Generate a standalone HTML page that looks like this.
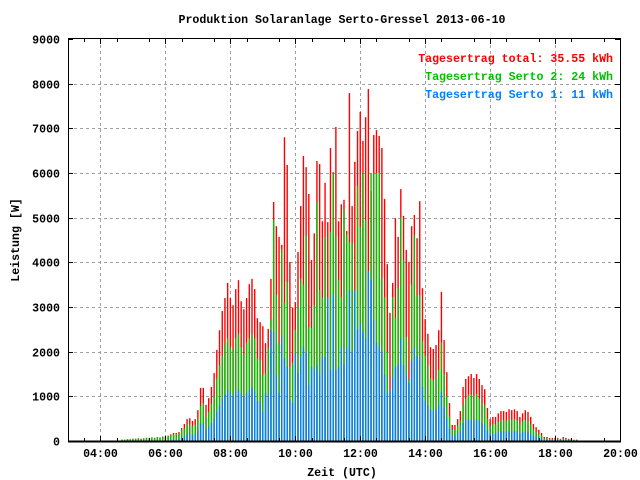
<!DOCTYPE html>
<html><head><meta charset="utf-8"><style>
html,body{margin:0;padding:0;background:#fff;}
svg{display:block;font-family:"Liberation Mono",monospace;font-weight:bold;}
</style></head><body>
<svg id="chart" width="640" height="480" viewBox="0 0 640 480" xmlns="http://www.w3.org/2000/svg">
<rect x="0" y="0" width="640" height="480" fill="#fff"/>
<text x="342" y="23" text-anchor="middle" font-size="11.6" fill="#000">Produktion Solaranlage Serto-Gressel 2013-06-10</text>
<g id="grid"></g>
<g id="bars"></g>
<g id="axes"></g>
<text x="613" y="62" text-anchor="end" font-size="11.6" fill="#ff0000">Tagesertrag total: 35.55 kWh</text>
<text x="613" y="80" text-anchor="end" font-size="11.6" fill="#00c000">Tagesertrag Serto 2: 24 kWh</text>
<text x="613" y="98" text-anchor="end" font-size="11.6" fill="#0080ff">Tagesertrag Serto 1: 11 kWh</text>
<text x="342" y="476" text-anchor="middle" font-size="11.6" fill="#000">Zeit (UTC)</text>
<text x="0" y="0" transform="translate(19,240) rotate(-90)" text-anchor="middle" font-size="11.6" fill="#000">Leistung [W]</text>
</svg>
<script>
const startTime = 4 + 40/60;
const stepMinutes = 5;
const xTickLabels = ["04:00","06:00","08:00","10:00","12:00","14:00","16:00","18:00","20:00"];
const xTickHours = [4,6,8,10,12,14,16,18,20];
const yTickValues = [0,1000,2000,3000,4000,5000,6000,7000,8000,9000];
const totalW = [30,30,40,40,
50,50,60,50,60,70,70,80,70,90,80,100,
100,120,150,180,180,200,290,380,490,510,450,490,
690,1190,1190,810,960,1210,1520,2040,2480,2910,3200,3540,
3200,3040,3400,3600,3130,2950,3200,3510,3630,3400,2750,2660,
2570,2190,2510,3630,5350,4810,4570,4390,6800,6180,4010,2980,
3110,4230,5260,6380,6130,5530,4050,4650,6270,6200,4920,5780,4900,6560,6020,7030,4920,5300,5400,4700,7790,
5260,6250,6940,7370,6720,7250,7880,5600,6850,6960,6830,6560,5420,3960,2870,3540,4990,4570,5640,5040,4280,4010,4810,5060,4540,
5370,3420,2730,2400,2100,2060,2150,2480,3340,2260,1540,850,360,360,490,670,1210,1390,1450,1500,1410,1500,1390,1250,1160,740,490,540,540,620,670,670,650,710,690,710,670,540,620,690,650,540,380,310,250,180,90,90,70,70,70,70,50,90,70,50,50,30,30];
const serto2W = [30,30,40,40,
50,50,60,50,60,70,70,80,70,90,80,100,
90,110,130,150,150,170,250,280,380,370,330,360,
500,780,850,550,650,820,1000,1400,1700,1900,2200,2300,
2100,2050,2300,2400,2100,1950,2200,2300,2400,2300,1850,1800,
1480,1520,2080,2730,4950,3270,2190,4300,3090,3560,1660,1750,
2480,3020,3630,3500,4600,2550,2530,3040,5350,3380,3200,4570,3200,4680,6000,4570,3600,3220,5190,4630,4450,
4430,3310,5710,4790,6020,4950,2640,6000,6000,6000,6000,3650,3220,1990,1070,3220,2750,3420,5010,4050,2330,1370,3500,4600,3260,
3260,2240,1900,1700,1400,1350,1400,1600,2200,1500,1000,550,250,250,350,450,800,950,1030,1050,1000,1050,950,850,800,500,330,370,370,430,460,460,450,490,470,490,460,370,430,470,450,370,260,210,170,120,60,60,50,50,50,50,35,60,50,35,35,20,20];
const serto1W = [0,0,0,0,
0,0,0,0,0,0,0,0,0,0,0,0,
10,10,20,30,30,40,80,100,150,160,140,150,
220,400,380,260,330,400,500,650,800,950,1050,1150,
1070,1000,1100,1150,1050,1000,1070,1150,1200,1100,900,880,
650,1070,1030,2480,2440,1480,1070,2330,1860,1660,920,850,
1970,1520,1880,2100,1990,1250,1660,1590,1700,1480,1880,1880,3220,1590,3270,1590,1660,2100,1720,2100,3380,
2000,3380,2500,2640,2450,2300,3800,3600,2700,2200,2100,2000,1480,1070,1140,1430,1660,1720,2300,1700,1500,1300,1800,2100,1900,
1880,1210,900,800,700,680,700,800,1100,750,500,280,120,120,160,220,400,460,470,480,460,480,450,400,370,240,160,170,170,200,220,220,210,230,220,230,220,170,200,220,210,170,120,100,80,60,30,30,20,20,20,20,15,30,20,15,15,10,10];

const NS = "http://www.w3.org/2000/svg";
const X0 = 68, X1 = 620, Y0 = 441, Y1 = 39;
const hMin = 3, hMax = 20, vMax = 9000;
function xScale(h){ return X0 + (h - hMin) / (hMax - hMin) * (X1 - X0); }
function yScale(v){ return Y0 - v / vMax * (Y0 - Y1); }
function mk(tag, attrs, parent){
  const e = document.createElementNS(NS, tag);
  for (const k in attrs) e.setAttribute(k, attrs[k]);
  parent.appendChild(e); return e;
}
const grid = document.getElementById('grid');
const axes = document.getElementById('axes');
const bars = document.getElementById('bars');

yTickValues.forEach(v => {
  const y = Math.round(yScale(v)) + 0.5;
  if (v > 0 && v < vMax) {
    const g = mk('line', {x1:X0, x2:X1, y1:y, y2:y, stroke:'#a0a0a0', 'stroke-dasharray':'3,3'}, grid);
    
    
  }
  const t = mk('line', {x1:X0, x2:X0+5, y1:y, y2:y, stroke:'#000'}, axes);
  
  
  const t2 = mk('line', {x1:X1-5, x2:X1, y1:y, y2:y, stroke:'#000'}, axes);
  
  
  const lb = mk('text', {x:60, y:y+4, 'text-anchor':'end', 'font-size':'11.6', fill:'#000'}, axes);
  lb.textContent = String(v);
  
  
});
xTickHours.forEach((h, i) => {
  const x = Math.round(xScale(h)) + 0.5;
  if (h < hMax) {
    const g = mk('line', {x1:x, x2:x, y1:Y1, y2:Y0, stroke:'#a0a0a0', 'stroke-dasharray':'3,3'}, grid);
    
    
  }
  const t = mk('line', {x1:x, x2:x, y1:Y0-5, y2:Y0, stroke:'#000'}, axes);
  
  
  const t2 = mk('line', {x1:x, x2:x, y1:Y1, y2:Y1+5, stroke:'#000'}, axes);
  
  
  const lb = mk('text', {x:x, y:457, 'text-anchor':'middle', 'font-size':'11.6', fill:'#000'}, axes);
  lb.textContent = xTickLabels[i];
  
  
});
for (let h = hMin; h < hMax; h++) {
  const x = Math.round(xScale(h + 0.5)) + 0.5;
  const m = mk('line', {x1:x, x2:x, y1:Y1, y2:Y1+3, stroke:'#000'}, axes);
  
  
  const m2 = mk('line', {x1:x, x2:x, y1:Y0-3, y2:Y0, stroke:'#000'}, axes);
  
  
}
const frame = mk('rect', {x:X0+0.5, y:Y1-0.5, width:X1-X0, height:Y0-Y1+1, fill:'none', stroke:'#000'}, axes);


const base = mk('line', {x1:X0, x2:X1+1, y1:Y0+0.5, y2:Y0+0.5, stroke:'#000', 'stroke-width':2}, axes);



const series = [
  {vals: totalW, color: '#ff0000', name: 'bar-total'},
  {vals: serto2W, color: '#00c000', name: 'bar-serto-2'},
  {vals: serto1W, color: '#0080ff', name: 'bar-serto-1'}
];
const bw = 1.4;
series.forEach(s => {
  s.vals.forEach((v, i) => {
    if (v <= 0) return;
    const h = startTime + i * stepMinutes / 60;
    const x = xScale(h);
    const y = yScale(v);
    const r = mk('rect', {x:(x - bw/2).toFixed(2), y:y.toFixed(2), width:bw, height:(Y0 - y).toFixed(2), fill:s.color}, bars);
    
    
  });
});
</script>
</body></html>
